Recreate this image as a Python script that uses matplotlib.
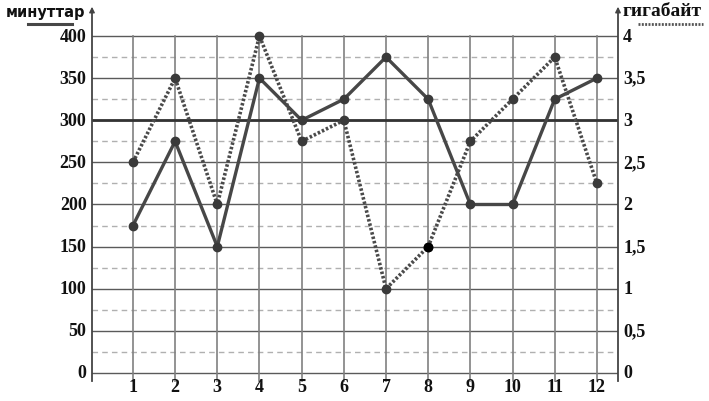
import matplotlib
matplotlib.use("Agg")
import matplotlib.pyplot as plt
from matplotlib.lines import Line2D

months = list(range(1, 13))
minutes = [175, 275, 150, 350, 300, 325, 375, 325, 200, 200, 325, 350]
gigabytes = [2.5, 3.5, 2.0, 4.0, 2.75, 3.0, 1.0, 1.5, 2.75, 3.25, 3.75, 2.25]
left_ticks = [0, 50, 100, 150, 200, 250, 300, 350, 400]
right_ticks = [0, 0.5, 1, 1.5, 2, 2.5, 3, 3.5, 4]
right_labels = ["0", "0,5", "1", "1,5", "2", "2,5", "3", "3,5", "4"]
left_title = "минуттар"
right_title = "гигабайт"

W, H = 709, 402
fig = plt.figure(figsize=(W / 100, H / 100), dpi=100)
ax_l, ax_r, ax_b, ax_t = 92 / W, 618 / W, (H - 383) / H, (H - 5) / H
ax = fig.add_axes([ax_l, ax_b, ax_r - ax_l, ax_t - ax_b])
ymin, ymax = -10.7, 438
ax.set_xlim(0.03, 12.5)
ax.set_ylim(ymin, ymax)
for s in ax.spines.values():
    s.set_visible(False)
ax.set_xticks([])
ax.set_yticks([])

# horizontal grid
for v in range(0, 401, 50):
    ax.plot([0.03, 12.5], [v, v], color="#5a5a5a", lw=1.0, zorder=1)
for v in range(25, 400, 50):
    ax.plot([0.03, 12.5], [v, v], color="#b0b0b0", lw=1.0, ls=(0, (4, 3)), zorder=1)
# reference line at 300
ax.plot([0.03, 12.5], [300, 300], color="#333333", lw=2.0, zorder=2)
# vertical grid
for m in months:
    ax.plot([m, m], [-9, 400], color="#808080", lw=1.2, zorder=1)
# axes with arrows
ax.plot([0.03, 0.03], [-10, 430], color="#444444", lw=1.3, zorder=2, clip_on=False)
ax.plot([12.5, 12.5], [-10, 430], color="#444444", lw=1.3, zorder=2, clip_on=False)
for xa in (0.03, 12.5):
    ax.annotate("", xy=(xa, 438), xytext=(xa, 425),
                arrowprops=dict(arrowstyle="-|>", color="#444444", lw=1.0,
                                mutation_scale=8), annotation_clip=False)

# data lines
ax.plot(months, minutes, color="#474747", lw=2.4, marker="o", ms=6.0,
        mfc="#3a3a3a", mec="#3a3a3a", zorder=4)
ax2 = ax.twinx()
ax2.set_ylim(ymin / 100, ymax / 100)
for s in ax2.spines.values():
    s.set_visible(False)
ax2.set_yticks([])
ax2.plot(months, gigabytes, color="#4a4a4a", lw=2.6, ls=(0, (0.7, 0.55)),
         marker="o", ms=6.0, mfc="#3a3a3a", mec="#3a3a3a", zorder=4)
ax2.plot([months[7]], [gigabytes[7]], marker="o", ms=6.0, color="black", zorder=5)

# tick labels
tf = dict(family="Liberation Serif", weight="bold", size=13, color="#111111")
for v in left_ticks:
    ax.text(-0.1, v, str(v), ha="right", va="center", **tf)
for v, lab in zip(right_ticks, right_labels):
    ax2.text(12.62, v, lab, ha="left", va="center", **tf)
for m in months:
    ax.text(m, -16.0, str(m), ha="center", va="center", **tf)

# titles
fig.text(6 / W, 1 - 13 / H, left_title, ha="left", va="center",
         family="DejaVu Sans", weight="bold", size=10.5, color="#111111")
fig.add_artist(Line2D([28 / W, 72 / W], [1 - 25 / H, 1 - 25 / H],
                      color="#474747", lw=2.2))
fig.text(623 / W, 1 - 12 / H, right_title, ha="left", va="center",
         family="Liberation Serif", weight="bold", size=14, color="#111111")
fig.add_artist(Line2D([638 / W, 703 / W], [1 - 25 / H, 1 - 25 / H],
                      color="#555555", lw=2.0, ls=(0, (0.7, 0.5))))

fig.savefig("out.png", dpi=100)
